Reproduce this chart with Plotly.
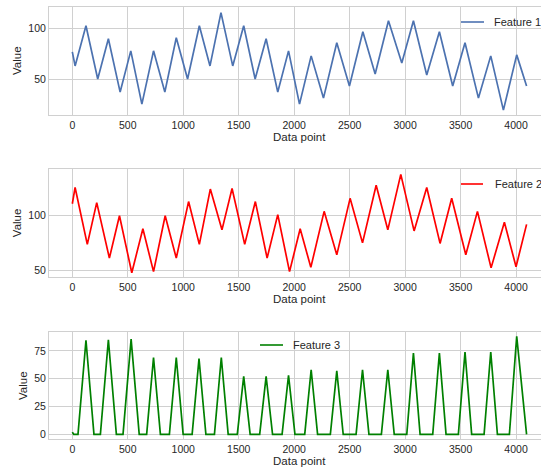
import plotly.graph_objects as go

# ---------------- data (vertices) ----------------
f1_x = [0, 25, 123, 229, 325, 431, 527, 627, 732, 834, 937, 1039, 1145, 1241, 1340,
        1446, 1545, 1648, 1747, 1852, 1949, 2048, 2153, 2264, 2384, 2498, 2619, 2730,
        2850, 2970, 3075, 3195, 3309, 3429, 3540, 3661, 3772, 3886, 4006, 4095]
f1_y = [77, 63, 103, 50, 90, 37, 78, 25, 78, 37, 91, 50, 103, 63, 116,
        63, 103, 50, 90, 37, 78, 25, 73, 31, 86, 43, 97, 55,
        108, 66, 108, 54, 97, 43, 86, 31, 73, 19, 74, 43]

f2_x = [0, 25, 135, 220, 334, 425, 536, 636, 732, 837, 937, 1048, 1145, 1244, 1349,
        1440, 1554, 1650, 1756, 1852, 1958, 2054, 2150, 2270, 2384, 2504, 2616, 2739,
        2844, 2961, 3081, 3195, 3315, 3420, 3547, 3652, 3775, 3895, 4000, 4095]
f2_y = [111, 126, 73.6, 112, 61, 100, 47.5, 88, 48.5, 100, 61, 113, 73.6, 124.5, 87,
        125, 73.6, 113, 61, 101, 48.5, 88, 52.5, 104, 64, 116, 75, 128,
        87, 138, 86, 126, 74.5, 116, 64, 104, 52, 94, 53, 92]

# Feature 3: start values, then each pulse (rise start, peak, fall end)
f3_start_x = [0, 12]
f3_start_y = [2, 0]
f3_rise_x = [51, 253, 457, 670, 875, 1080, 1281, 1487, 1689, 1891,
             2095, 2326, 2558, 2786, 3015, 3249, 3480, 3712, 3940]
f3_peak_x = [123, 325, 530, 732, 937, 1142, 1343, 1545, 1747, 1949,
             2153, 2384, 2616, 2844, 3075, 3309, 3540, 3772, 4006]
f3_peak_y = [84.5, 85, 85.5, 69, 69, 68, 69, 52, 52, 53,
             58, 57, 58, 58, 73, 73, 74, 74, 88]
f3_fall_x = [195, 397, 603, 794, 999, 1204, 1405, 1603, 1805, 2007,
             2211, 2442, 2674, 2902, 3135, 3369, 3600, 3832, 4095]

x_ticks = [0, 500, 1000, 1500, 2000, 2500, 3000, 3500, 4000]
y_ticks = [[50, 100], [50, 100], [0, 25, 50, 75]]
series_names = ["Feature 1", "Feature 2", "Feature 3"]
colors = ["#4c72b0", "#ff0000", "#008000"]

# build feature 3 path from the read values
f3_x = list(f3_start_x)
f3_y = list(f3_start_y)
for a, b, c, h in zip(f3_rise_x, f3_peak_x, f3_fall_x, f3_peak_y):
    f3_x += [a, b, c]
    f3_y += [0, h, 0]

# ---------------- layout geometry ----------------
W, H = 541, 470
L, R = 49, 0
PW = W - L - R

def py(p):
    return 1 - p / H

def px(p):
    return (p - L) / PW

panels = [(7, 115), (169.3, 277), (331.7, 439.3)]
yranges = [[14.2, 121.6], [43.6, 142.7], [-4.5, 92.2]]
xrange_ = [-210.3, 4225]

FONT = "Liberation Sans, Arial, sans-serif"
TXT = "#262626"
GRID = "#d0d0d0"

fig = go.Figure()
data = [(f1_x, f1_y), (f2_x, f2_y), (f3_x, f3_y)]
for i, (xs, ys) in enumerate(data):
    sfx = "" if i == 0 else str(i + 1)
    fig.add_trace(go.Scatter(x=xs, y=ys, mode="lines", name=series_names[i],
                             line=dict(color=colors[i], width=1.7),
                             xaxis="x" + sfx, yaxis="y" + sfx, showlegend=False))

layout = dict(width=W, height=H, margin=dict(l=L, r=R, t=0, b=0),
              plot_bgcolor="white", paper_bgcolor="white",
              font=dict(family=FONT, size=10.5, color=TXT))
annotations = []
shapes = []
for i, (top, bot) in enumerate(panels):
    sfx = "" if i == 0 else str(i + 1)
    layout["xaxis" + sfx] = dict(domain=[0, 1], anchor="y" + sfx, range=xrange_,
                                 tickvals=x_ticks, showgrid=True, gridcolor=GRID, gridwidth=1,
                                 showline=True, linecolor=GRID, linewidth=1, mirror=True,
                                 zeroline=False, ticks="", tickfont=dict(size=10.5, color=TXT))
    layout["yaxis" + sfx] = dict(domain=[py(bot), py(top)], anchor="x" + sfx, range=yranges[i],
                                 tickvals=y_ticks[i], showgrid=True, gridcolor=GRID, gridwidth=1,
                                 showline=True, linecolor=GRID, linewidth=1,
                                 zeroline=False, ticks="", tickfont=dict(size=10.5, color=TXT))
    annotations.append(dict(text="Data point", xref="paper", yref="paper",
                            x=px(299), y=py(bot + 21.7), showarrow=False,
                            xanchor="center", yanchor="middle",
                            font=dict(size=11.5, color=TXT)))
    vx = 17 if i < 2 else 22.5
    annotations.append(dict(text="Value", xref="paper", yref="paper",
                            x=px(vx), y=py((top + bot) / 2), showarrow=False, textangle=-90,
                            xanchor="center", yanchor="middle",
                            font=dict(size=11.5, color=TXT)))

# legends (line sample + label) per panel
legend_pos = [(461, 484, 22, 492), (461, 483, 184, 493), (260, 283, 345, 291)]
for i, (x0, x1, yy, xt) in enumerate(legend_pos):
    shapes.append(dict(type="line", xref="paper", yref="paper",
                       x0=px(x0), x1=px(x1), y0=py(yy), y1=py(yy),
                       line=dict(color=colors[i], width=1.6)))
    annotations.append(dict(text=series_names[i], xref="paper", yref="paper",
                            x=px(xt), y=py(yy), showarrow=False,
                            xanchor="left", yanchor="middle",
                            font=dict(size=11, color=TXT)))

layout["annotations"] = annotations
layout["shapes"] = shapes
fig.update_layout(**layout)
fig.write_html("out.html", config={"displayModeBar": False},
               post_script="document.body.style.margin='0';document.body.style.padding='0';"
                           "document.body.style.overflow='hidden';")
